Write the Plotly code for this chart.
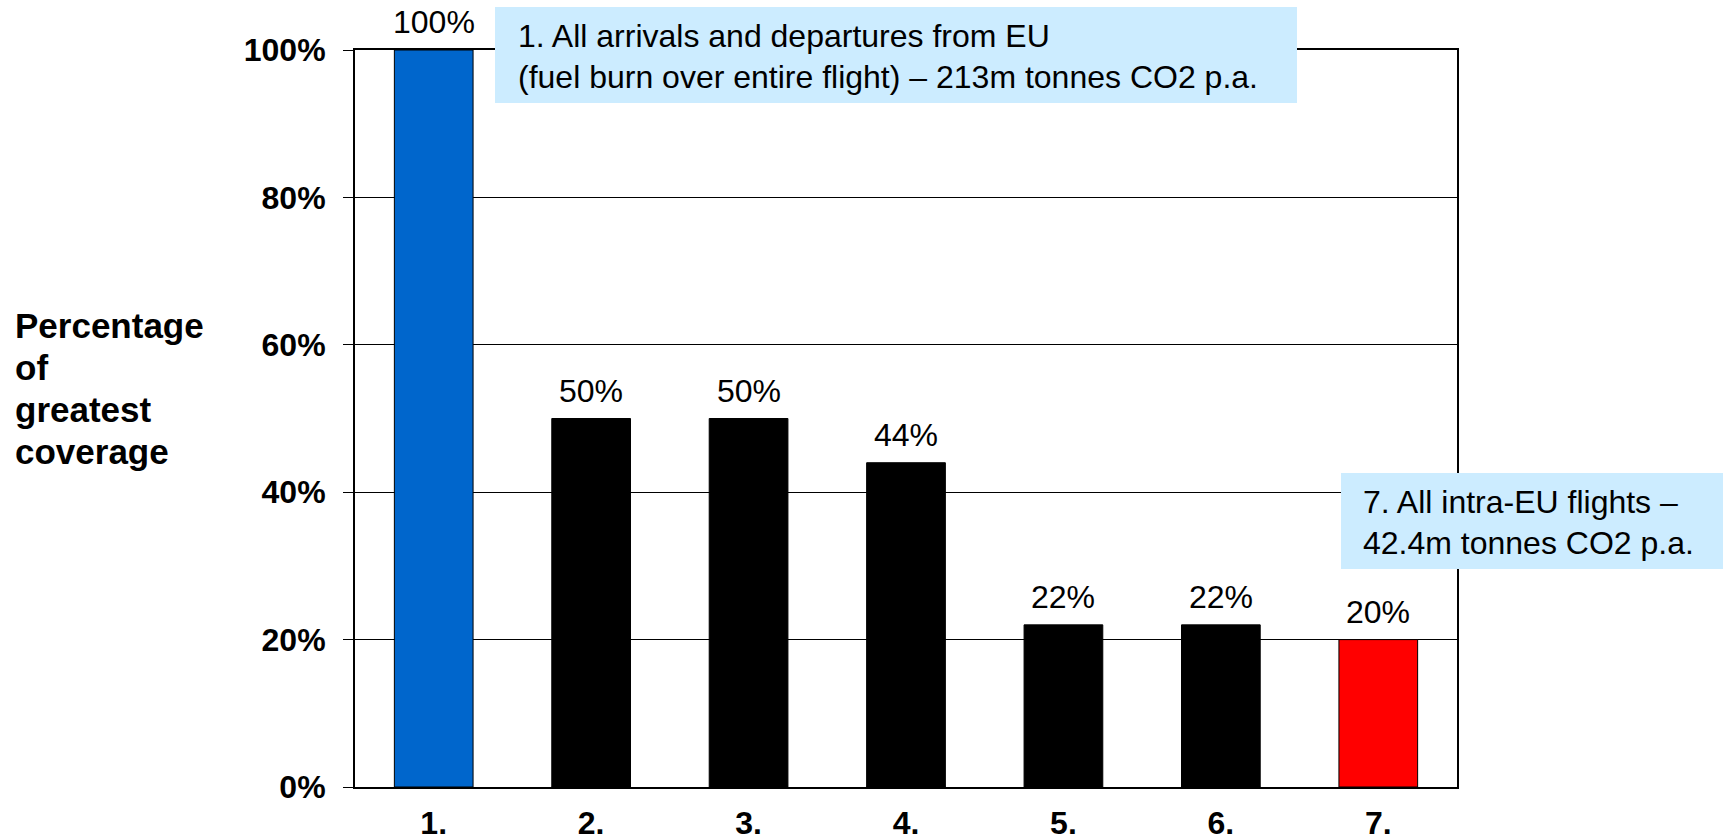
import plotly.graph_objects as go

# ---- data -------------------------------------------------------------
categories = ["1.", "2.", "3.", "4.", "5.", "6.", "7."]
coverage_pct = [100, 50, 50, 44, 22, 22, 20]
value_labels = ["100%", "50%", "50%", "44%", "22%", "22%", "20%"]
bar_colors = ["#0066CC", "#000000", "#000000", "#000000", "#000000", "#000000", "#FF0000"]

y_tick_vals = [0, 20, 40, 60, 80, 100]
y_tick_text = ["0%", "20%", "40%", "60%", "80%", "100%"]

axis_title_lines = ["Percentage", "of", "greatest", "coverage"]
note_all_flights = [
    "1. All arrivals and departures from EU",
    "(fuel burn over entire flight) – 213m tonnes CO2 p.a.",
]
note_intra_eu = [
    "7. All intra-EU flights –",
    "42.4m tonnes CO2 p.a.",
]

# ---- page geometry (pixels) -------------------------------------------
W, H = 1723, 834
ML, MR, MT, MB = 355, 266, 50, 47
PW = W - ML - MR
PH = H - MT - MB


def px(x):
    """Pixel column -> paper x."""
    return (x - ML) / PW


def py(y):
    """Pixel row -> paper y."""
    return (H - MB - y) / PH


FONT = "Liberation Sans, Arial, sans-serif"

fig = go.Figure(
    go.Bar(
        x=categories,
        y=coverage_pct,
        width=0.5,
        marker=dict(color=bar_colors, line=dict(color="#000000", width=1)),
        hoverinfo="skip",
    )
)

annotations = []

# value labels above each bar (category index on the x axis)
for idx, (val, lab) in enumerate(zip(coverage_pct, value_labels)):
    annotations.append(dict(
        x=idx, y=val, xref="x", yref="y", text=lab, showarrow=False,
        yanchor="bottom", xanchor="center", yshift=8,
        font=dict(family=FONT, size=32, color="#000000"),
    ))

# vertical-axis caption, left aligned, one line per annotation
for i, line in enumerate(axis_title_lines):
    annotations.append(dict(
        x=px(13), y=py(325 + 42 * i), xref="paper", yref="paper",
        text=line, showarrow=False, xanchor="left", yanchor="middle",
        font=dict(family=FONT, size=35, color="#000000", weight="bold"),
    ))

# call-out notes
for i, line in enumerate(note_all_flights):
    annotations.append(dict(
        x=px(516), y=py(36.5 + 40 * i), xref="paper", yref="paper",
        text=line, showarrow=False, xanchor="left", yanchor="middle",
        font=dict(family=FONT, size=32, color="#000000"),
    ))
for i, line in enumerate(note_intra_eu):
    annotations.append(dict(
        x=px(1361), y=py(502.5 + 40 * i), xref="paper", yref="paper",
        text=line, showarrow=False, xanchor="left", yanchor="middle",
        font=dict(family=FONT, size=32, color="#000000"),
    ))

shapes = [
    dict(type="rect", xref="paper", yref="paper",
         x0=px(495), x1=px(1297), y0=py(103), y1=py(7),
         fillcolor="#CCECFF", line=dict(width=0), layer="above"),
    dict(type="rect", xref="paper", yref="paper",
         x0=px(1341), x1=px(1730), y0=py(569), y1=py(473),
         fillcolor="#CCECFF", line=dict(width=0), layer="above"),
]

fig.update_layout(
    width=W, height=H,
    margin=dict(l=ML, r=MR, t=MT, b=MB, pad=0, autoexpand=False),
    paper_bgcolor="#FFFFFF", plot_bgcolor="#FFFFFF",
    showlegend=False,
    bargap=0.5,
    annotations=annotations,
    shapes=shapes,
    font=dict(family=FONT, color="#000000"),
)

fig.update_xaxes(
    type="category",
    range=[-0.5, 6.5],
    automargin=False,
    showline=True, linecolor="#000000", linewidth=2, mirror=True,
    showgrid=False, zeroline=False,
    ticks="",
    ticklabelstandoff=7,
    tickfont=dict(family=FONT, size=32, color="#000000", weight="bold"),
)

fig.update_yaxes(
    range=[0, 100],
    automargin=False,
    tickvals=y_tick_vals, ticktext=y_tick_text,
    showline=True, linecolor="#000000", linewidth=2, mirror=True,
    showgrid=True, gridcolor="#000000", gridwidth=1,
    zeroline=False,
    ticks="outside", ticklen=10, tickwidth=1, tickcolor="#000000",
    ticklabelstandoff=11,
    tickfont=dict(family=FONT, size=32, color="#000000", weight="bold"),
)

fig.write_html("out.html")
